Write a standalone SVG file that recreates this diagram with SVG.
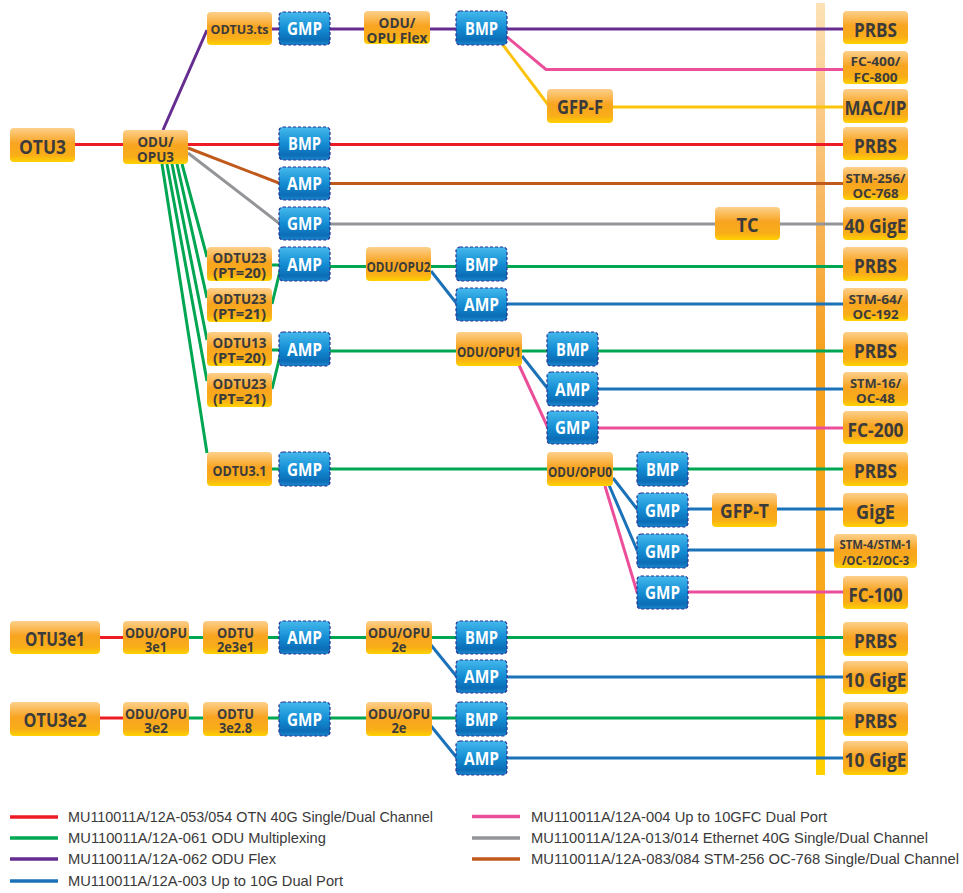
<svg xmlns="http://www.w3.org/2000/svg" width="963" height="893" viewBox="0 0 963 893">
<defs>
<linearGradient id="og" x1="0" y1="0" x2="0" y2="1">
<stop offset="0" stop-color="#fdd08c"/>
<stop offset="0.45" stop-color="#f8a420"/>
<stop offset="0.8" stop-color="#f9ae18"/>
<stop offset="1" stop-color="#ffd200"/>
</linearGradient>
<linearGradient id="bg" x1="0" y1="0" x2="0" y2="1">
<stop offset="0" stop-color="#45b9ec"/>
<stop offset="0.5" stop-color="#148dd4"/>
<stop offset="0.85" stop-color="#0b6db6"/>
<stop offset="1" stop-color="#1c88cd"/>
</linearGradient>
<linearGradient id="bar" x1="0" y1="0" x2="0" y2="1">
<stop offset="0" stop-color="#fde2b6"/>
<stop offset="0.25" stop-color="#f8b963"/>
<stop offset="0.45" stop-color="#f6a11f"/>
<stop offset="0.75" stop-color="#f8a81b"/>
<stop offset="1" stop-color="#ffd200"/>
</linearGradient>
</defs>
<style>
.o{fill:url(#og)}
.b{fill:url(#bg);stroke:#2e3192;stroke-width:1.2;stroke-dasharray:3 2}
text{font-family:"Open Sans","Liberation Sans",sans-serif;font-weight:700;text-anchor:middle}
.t{fill:#3b3b3b}
.w{fill:#ffffff;font-size:17px}
.s19{font-size:19px}.s15{font-size:15px}.s14{font-size:13.5px}.s13{font-size:13px}.s12{font-size:12px}
#connectors path{fill:none;stroke-width:3}
.rd{stroke:#ed1c24}.gn{stroke:#00a651}.pu{stroke:#662d91}.bl{stroke:#1b72b8}.pk{stroke:#ec4f9a}.gy{stroke:#939598}.br{stroke:#c05a1c}.ye{stroke:#fcc30b}
#legend text{font-family:"Liberation Sans",Arial,sans-serif;font-weight:400;text-anchor:start;font-size:14.5px;fill:#3a3a3a}
#legend line{stroke-width:3.5}
</style>
<rect id="bus" x="816" y="3" width="9" height="772" fill="url(#bar)"/>
<g id="connectors">
<path class="pu" d="M163,130 L207,30 M272,29 H843"/>
<path class="pk" d="M507,37 L546,69.5 H843"/>
<path class="ye" d="M503,45 L549,106 M613,107 H843"/>
<path class="rd" d="M75,144.5 H843"/>
<path class="br" d="M188,148 L280,183.5 H843"/>
<path class="gy" d="M188,153 L280,224 H843"/>
<path class="gn" d="M182,164 L207,257 M177,164 L207,298 M172,164 L207,340 M167,164 L207,381 M162,164 L207,453"/>
<path class="gn" d="M272,265 H280 M272,304 L280,271 M272,350 H280 M272,389 L280,356"/>
<path class="gn" d="M272,469 H843 M330,266.5 H843 M330,351 H843"/>
<path class="bl" d="M431,271 L457,304 H843"/>
<path class="bl" d="M522,356 L548,389 H843"/>
<path class="pk" d="M519,365 L548,428 H843"/>
<path class="bl" d="M613,478 L637,509 H843"/>
<path class="bl" d="M609,485 L637,550 H834"/>
<path class="pk" d="M605,486 L637,592 H843"/>
<path class="rd" d="M100,637.5 H123 M100,718 H123"/>
<path class="gn" d="M189,637.5 H843 M189,718 H843"/>
<path class="bl" d="M431,645 L457,677 H843 M431,726 L457,758 H843"/>
</g>
<g id="otu3"><rect class="o" x="10" y="128" width="65" height="34" rx="4"/><text class="t s19" x="42.5" y="154" textLength="47" lengthAdjust="spacingAndGlyphs">OTU3</text></g>
<g id="odu3"><rect class="o" x="123" y="130" width="65" height="34" rx="4"/><text class="t s15"><tspan x="155.5" y="147" textLength="36" lengthAdjust="spacingAndGlyphs">ODU/</tspan><tspan x="155.5" y="162" textLength="37" lengthAdjust="spacingAndGlyphs">OPU3</tspan></text></g>
<g id="odtu3ts"><rect class="o" x="207" y="12" width="65" height="33" rx="4"/><text class="t s13" x="239.5" y="33.5" textLength="58" lengthAdjust="spacingAndGlyphs">ODTU3.ts</text></g>
<g id="oduflex"><rect class="o" x="364" y="11" width="66" height="33" rx="4"/><text class="t s15"><tspan x="397" y="28" textLength="37" lengthAdjust="spacingAndGlyphs">ODU/</tspan><tspan x="397" y="43" textLength="61" lengthAdjust="spacingAndGlyphs">OPU Flex</tspan></text></g>
<g id="gfpf"><rect class="o" x="547" y="89" width="66" height="34" rx="4"/><text class="t s19" x="580" y="114" textLength="46" lengthAdjust="spacingAndGlyphs">GFP-F</text></g>
<g id="tc"><rect class="o" x="715" y="207" width="65" height="33" rx="4"/><text class="t s19" x="747.5" y="232" textLength="22" lengthAdjust="spacingAndGlyphs">TC</text></g>
<g id="odtu23a"><rect class="o" x="207" y="247" width="65" height="34" rx="4"/><text class="t s14"><tspan x="239.5" y="263" textLength="54" lengthAdjust="spacingAndGlyphs">ODTU23</tspan><tspan x="239.5" y="278" textLength="53" lengthAdjust="spacingAndGlyphs">(PT=20)</tspan></text></g>
<g id="odtu23b"><rect class="o" x="207" y="288" width="65" height="34" rx="4"/><text class="t s14"><tspan x="239.5" y="304" textLength="54" lengthAdjust="spacingAndGlyphs">ODTU23</tspan><tspan x="239.5" y="319" textLength="53" lengthAdjust="spacingAndGlyphs">(PT=21)</tspan></text></g>
<g id="odtu13"><rect class="o" x="207" y="332" width="65" height="34" rx="4"/><text class="t s14"><tspan x="239.5" y="348" textLength="54" lengthAdjust="spacingAndGlyphs">ODTU13</tspan><tspan x="239.5" y="363" textLength="53" lengthAdjust="spacingAndGlyphs">(PT=20)</tspan></text></g>
<g id="odtu23c"><rect class="o" x="207" y="373" width="65" height="34" rx="4"/><text class="t s14"><tspan x="239.5" y="389" textLength="54" lengthAdjust="spacingAndGlyphs">ODTU23</tspan><tspan x="239.5" y="404" textLength="53" lengthAdjust="spacingAndGlyphs">(PT=21)</tspan></text></g>
<g id="odtu31"><rect class="o" x="207" y="452" width="65" height="34" rx="4"/><text class="t s15" x="239.5" y="475.5" textLength="54" lengthAdjust="spacingAndGlyphs">ODTU3.1</text></g>
<g id="odu2"><rect class="o" x="366" y="247" width="65" height="34" rx="4"/><text class="t s15" x="398.5" y="271.5" textLength="64" lengthAdjust="spacingAndGlyphs">ODU/OPU2</text></g>
<g id="odu1"><rect class="o" x="456" y="332" width="66" height="34" rx="4"/><text class="t s15" x="489" y="356.5" textLength="64" lengthAdjust="spacingAndGlyphs">ODU/OPU1</text></g>
<g id="odu0"><rect class="o" x="547" y="452" width="66" height="34" rx="4"/><text class="t s15" x="580" y="476.5" textLength="64" lengthAdjust="spacingAndGlyphs">ODU/OPU0</text></g>
<g id="gfpt"><rect class="o" x="712" y="493" width="65" height="34" rx="4"/><text class="t s19" x="744.5" y="518" textLength="49" lengthAdjust="spacingAndGlyphs">GFP-T</text></g>
<g id="otu3e1"><rect class="o" x="10" y="621" width="90" height="33" rx="4"/><text class="t s19" x="55" y="646" textLength="60" lengthAdjust="spacingAndGlyphs">OTU3e1</text></g>
<g id="odu3e1"><rect class="o" x="123" y="621" width="66" height="33" rx="4"/><text class="t s14"><tspan x="156" y="637.5" textLength="62" lengthAdjust="spacingAndGlyphs">ODU/OPU</tspan><tspan x="156" y="652" textLength="22" lengthAdjust="spacingAndGlyphs">3e1</tspan></text></g>
<g id="odtu2e3e1"><rect class="o" x="203" y="621" width="65" height="33" rx="4"/><text class="t s14"><tspan x="235.5" y="637.5" textLength="37" lengthAdjust="spacingAndGlyphs">ODTU</tspan><tspan x="235.5" y="652" textLength="37" lengthAdjust="spacingAndGlyphs">2e3e1</tspan></text></g>
<g id="odu2e1"><rect class="o" x="366" y="621" width="66" height="33" rx="4"/><text class="t s14"><tspan x="399" y="637.5" textLength="62" lengthAdjust="spacingAndGlyphs">ODU/OPU</tspan><tspan x="399" y="652" textLength="15" lengthAdjust="spacingAndGlyphs">2e</tspan></text></g>
<g id="otu3e2"><rect class="o" x="10" y="702" width="90" height="34" rx="4"/><text class="t s19" x="55" y="727" textLength="63" lengthAdjust="spacingAndGlyphs">OTU3e2</text></g>
<g id="odu3e2"><rect class="o" x="123" y="702" width="66" height="34" rx="4"/><text class="t s14"><tspan x="156" y="718.5" textLength="62" lengthAdjust="spacingAndGlyphs">ODU/OPU</tspan><tspan x="156" y="733" textLength="24" lengthAdjust="spacingAndGlyphs">3e2</tspan></text></g>
<g id="odtu3e28"><rect class="o" x="203" y="702" width="65" height="34" rx="4"/><text class="t s14"><tspan x="235.5" y="718.5" textLength="37" lengthAdjust="spacingAndGlyphs">ODTU</tspan><tspan x="235.5" y="733" textLength="33" lengthAdjust="spacingAndGlyphs">3e2.8</tspan></text></g>
<g id="odu2e2"><rect class="o" x="366" y="702" width="66" height="34" rx="4"/><text class="t s14"><tspan x="399" y="718.5" textLength="62" lengthAdjust="spacingAndGlyphs">ODU/OPU</tspan><tspan x="399" y="733" textLength="15" lengthAdjust="spacingAndGlyphs">2e</tspan></text></g>
<g id="r1"><rect class="o" x="843" y="11" width="65" height="33" rx="4"/><text class="t s19" x="875.5" y="36.5" textLength="43" lengthAdjust="spacingAndGlyphs">PRBS</text></g>
<g id="r2"><rect class="o" x="843" y="51" width="65" height="33" rx="4"/><text class="t s13"><tspan x="875.5" y="66" textLength="50" lengthAdjust="spacingAndGlyphs">FC-400/</tspan><tspan x="875.5" y="81.5" textLength="44" lengthAdjust="spacingAndGlyphs">FC-800</tspan></text></g>
<g id="r3"><rect class="o" x="843" y="89" width="65" height="34" rx="4"/><text class="t s19" x="875.5" y="114.5" textLength="62" lengthAdjust="spacingAndGlyphs">MAC/IP</text></g>
<g id="r4"><rect class="o" x="843" y="127" width="65" height="33" rx="4"/><text class="t s19" x="875.5" y="152.5" textLength="43" lengthAdjust="spacingAndGlyphs">PRBS</text></g>
<g id="r5"><rect class="o" x="843" y="167" width="65" height="33" rx="4"/><text class="t s13"><tspan x="875.5" y="182.5" textLength="60" lengthAdjust="spacingAndGlyphs">STM-256/</tspan><tspan x="875.5" y="198" textLength="46" lengthAdjust="spacingAndGlyphs">OC-768</tspan></text></g>
<g id="r6"><rect class="o" x="843" y="207" width="65" height="33" rx="4"/><text class="t s19" x="875.5" y="232.5" textLength="62" lengthAdjust="spacingAndGlyphs">40 GigE</text></g>
<g id="r7"><rect class="o" x="843" y="247" width="65" height="34" rx="4"/><text class="t s19" x="875.5" y="272.5" textLength="43" lengthAdjust="spacingAndGlyphs">PRBS</text></g>
<g id="r8"><rect class="o" x="843" y="288" width="65" height="33" rx="4"/><text class="t s13"><tspan x="875.5" y="303.5" textLength="54" lengthAdjust="spacingAndGlyphs">STM-64/</tspan><tspan x="875.5" y="319" textLength="46" lengthAdjust="spacingAndGlyphs">OC-192</tspan></text></g>
<g id="r9"><rect class="o" x="843" y="332" width="65" height="34" rx="4"/><text class="t s19" x="875.5" y="357.5" textLength="43" lengthAdjust="spacingAndGlyphs">PRBS</text></g>
<g id="r10"><rect class="o" x="843" y="372" width="65" height="34" rx="4"/><text class="t s13"><tspan x="875.5" y="387.5" textLength="51" lengthAdjust="spacingAndGlyphs">STM-16/</tspan><tspan x="875.5" y="403" textLength="39" lengthAdjust="spacingAndGlyphs">OC-48</tspan></text></g>
<g id="r11"><rect class="o" x="843" y="411" width="65" height="33" rx="4"/><text class="t s19" x="875.5" y="436.5" textLength="56" lengthAdjust="spacingAndGlyphs">FC-200</text></g>
<g id="r12"><rect class="o" x="843" y="452" width="65" height="34" rx="4"/><text class="t s19" x="875.5" y="477.5" textLength="43" lengthAdjust="spacingAndGlyphs">PRBS</text></g>
<g id="r13"><rect class="o" x="843" y="493" width="65" height="34" rx="4"/><text class="t s19" x="875.5" y="518.5" textLength="39" lengthAdjust="spacingAndGlyphs">GigE</text></g>
<g id="r14"><rect class="o" x="834" y="534" width="83" height="34" rx="4"/><text class="t s12"><tspan x="875.5" y="549" textLength="72" lengthAdjust="spacingAndGlyphs">STM-4/STM-1</tspan><tspan x="875.5" y="564.5" textLength="67" lengthAdjust="spacingAndGlyphs">/OC-12/OC-3</tspan></text></g>
<g id="r15"><rect class="o" x="843" y="576" width="65" height="33" rx="4"/><text class="t s19" x="875.5" y="601.5" textLength="54" lengthAdjust="spacingAndGlyphs">FC-100</text></g>
<g id="r16"><rect class="o" x="843" y="622" width="65" height="34" rx="4"/><text class="t s19" x="875.5" y="647.5" textLength="43" lengthAdjust="spacingAndGlyphs">PRBS</text></g>
<g id="r17"><rect class="o" x="843" y="661" width="65" height="33" rx="4"/><text class="t s19" x="875.5" y="686.5" textLength="62" lengthAdjust="spacingAndGlyphs">10 GigE</text></g>
<g id="r18"><rect class="o" x="843" y="702" width="65" height="34" rx="4"/><text class="t s19" x="875.5" y="727.5" textLength="43" lengthAdjust="spacingAndGlyphs">PRBS</text></g>
<g id="r19"><rect class="o" x="843" y="741" width="65" height="34" rx="4"/><text class="t s19" x="875.5" y="766.5" textLength="62" lengthAdjust="spacingAndGlyphs">10 GigE</text></g>
<g id="b1"><rect class="b" x="279" y="12" width="51" height="33" rx="4"/><text class="w" x="304.5" y="35" textLength="35" lengthAdjust="spacingAndGlyphs">GMP</text></g>
<g id="b2"><rect class="b" x="456" y="11" width="51" height="34" rx="4"/><text class="w" x="481.5" y="34.5" textLength="33" lengthAdjust="spacingAndGlyphs">BMP</text></g>
<g id="b3"><rect class="b" x="279" y="127" width="51" height="33" rx="4"/><text class="w" x="304.5" y="150" textLength="33" lengthAdjust="spacingAndGlyphs">BMP</text></g>
<g id="b4"><rect class="b" x="279" y="167" width="51" height="33" rx="4"/><text class="w" x="304.5" y="190" textLength="35" lengthAdjust="spacingAndGlyphs">AMP</text></g>
<g id="b5"><rect class="b" x="279" y="207" width="51" height="33" rx="4"/><text class="w" x="304.5" y="230" textLength="35" lengthAdjust="spacingAndGlyphs">GMP</text></g>
<g id="b6"><rect class="b" x="279" y="247" width="51" height="34" rx="4"/><text class="w" x="304.5" y="270.5" textLength="35" lengthAdjust="spacingAndGlyphs">AMP</text></g>
<g id="b7"><rect class="b" x="279" y="332" width="51" height="34" rx="4"/><text class="w" x="304.5" y="355.5" textLength="35" lengthAdjust="spacingAndGlyphs">AMP</text></g>
<g id="b8"><rect class="b" x="279" y="452" width="51" height="34" rx="4"/><text class="w" x="304.5" y="475.5" textLength="35" lengthAdjust="spacingAndGlyphs">GMP</text></g>
<g id="b9"><rect class="b" x="456" y="247" width="51" height="34" rx="4"/><text class="w" x="481.5" y="270.5" textLength="33" lengthAdjust="spacingAndGlyphs">BMP</text></g>
<g id="b10"><rect class="b" x="456" y="288" width="51" height="33" rx="4"/><text class="w" x="481.5" y="311" textLength="35" lengthAdjust="spacingAndGlyphs">AMP</text></g>
<g id="b11"><rect class="b" x="547" y="332" width="51" height="34" rx="4"/><text class="w" x="572.5" y="355.5" textLength="33" lengthAdjust="spacingAndGlyphs">BMP</text></g>
<g id="b12"><rect class="b" x="547" y="372" width="51" height="34" rx="4"/><text class="w" x="572.5" y="395.5" textLength="35" lengthAdjust="spacingAndGlyphs">AMP</text></g>
<g id="b13"><rect class="b" x="547" y="411" width="51" height="33" rx="4"/><text class="w" x="572.5" y="434" textLength="35" lengthAdjust="spacingAndGlyphs">GMP</text></g>
<g id="b14"><rect class="b" x="637" y="452" width="51" height="34" rx="4"/><text class="w" x="662.5" y="475.5" textLength="33" lengthAdjust="spacingAndGlyphs">BMP</text></g>
<g id="b15"><rect class="b" x="637" y="493" width="51" height="34" rx="4"/><text class="w" x="662.5" y="516.5" textLength="35" lengthAdjust="spacingAndGlyphs">GMP</text></g>
<g id="b16"><rect class="b" x="637" y="534" width="51" height="34" rx="4"/><text class="w" x="662.5" y="557.5" textLength="35" lengthAdjust="spacingAndGlyphs">GMP</text></g>
<g id="b17"><rect class="b" x="637" y="576" width="51" height="33" rx="4"/><text class="w" x="662.5" y="599" textLength="35" lengthAdjust="spacingAndGlyphs">GMP</text></g>
<g id="b18"><rect class="b" x="279" y="621" width="51" height="33" rx="4"/><text class="w" x="304.5" y="644" textLength="35" lengthAdjust="spacingAndGlyphs">AMP</text></g>
<g id="b19"><rect class="b" x="456" y="621" width="51" height="33" rx="4"/><text class="w" x="481.5" y="644" textLength="33" lengthAdjust="spacingAndGlyphs">BMP</text></g>
<g id="b20"><rect class="b" x="456" y="660" width="51" height="33" rx="4"/><text class="w" x="481.5" y="683" textLength="35" lengthAdjust="spacingAndGlyphs">AMP</text></g>
<g id="b21"><rect class="b" x="279" y="702" width="51" height="34" rx="4"/><text class="w" x="304.5" y="725.5" textLength="35" lengthAdjust="spacingAndGlyphs">GMP</text></g>
<g id="b22"><rect class="b" x="456" y="702" width="51" height="34" rx="4"/><text class="w" x="481.5" y="725.5" textLength="33" lengthAdjust="spacingAndGlyphs">BMP</text></g>
<g id="b23"><rect class="b" x="456" y="741" width="51" height="34" rx="4"/><text class="w" x="481.5" y="764.5" textLength="35" lengthAdjust="spacingAndGlyphs">AMP</text></g>
<g id="legend">
<line class="rd" x1="10" y1="817" x2="58" y2="817"/><text x="68" y="822" textLength="365" lengthAdjust="spacingAndGlyphs">MU110011A/12A-053/054 OTN 40G Single/Dual Channel</text>
<line class="gn" x1="10" y1="838" x2="58" y2="838"/><text x="68" y="843" textLength="258" lengthAdjust="spacingAndGlyphs">MU110011A/12A-061 ODU Multiplexing</text>
<line class="pu" x1="10" y1="859" x2="58" y2="859"/><text x="68" y="864" textLength="208" lengthAdjust="spacingAndGlyphs">MU110011A/12A-062 ODU Flex</text>
<line class="bl" x1="10" y1="881" x2="58" y2="881"/><text x="68" y="886" textLength="275" lengthAdjust="spacingAndGlyphs">MU110011A/12A-003 Up to 10G Dual Port</text>
<line class="pk" x1="472" y1="816.5" x2="520" y2="816.5"/><text x="531" y="822" textLength="296" lengthAdjust="spacingAndGlyphs">MU110011A/12A-004 Up to 10GFC Dual Port</text>
<line class="gy" x1="472" y1="838" x2="520" y2="838"/><text x="531" y="843" textLength="397" lengthAdjust="spacingAndGlyphs">MU110011A/12A-013/014 Ethernet 40G Single/Dual Channel</text>
<line class="br" x1="472" y1="859" x2="520" y2="859"/><text x="531" y="864" textLength="428" lengthAdjust="spacingAndGlyphs">MU110011A/12A-083/084 STM-256 OC-768 Single/Dual Channel</text>
</g>
</svg>
